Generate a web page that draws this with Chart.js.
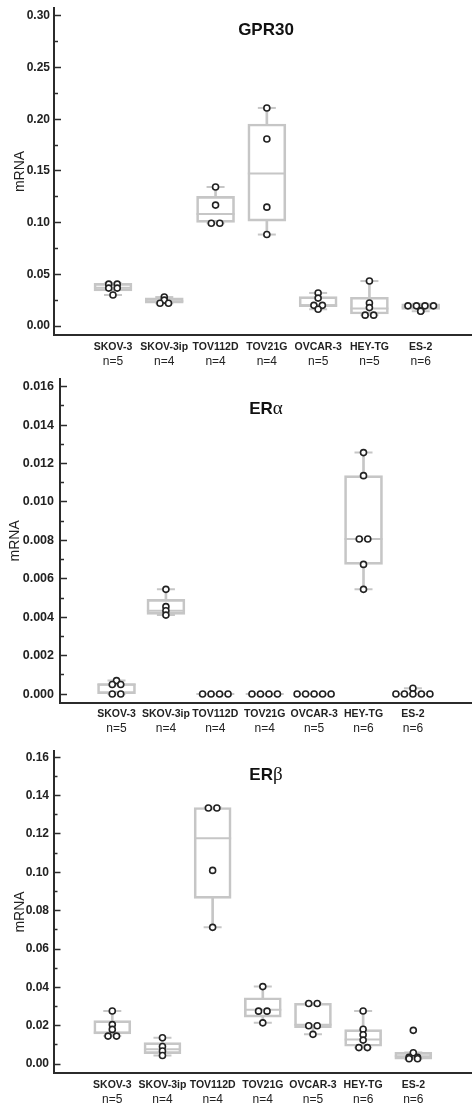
<!DOCTYPE html>
<html>
<head>
<meta charset="utf-8">
<script src="https://cdn.jsdelivr.net/npm/chart.js@4.4.0/dist/chart.umd.min.js"></script>
<style>
  body { margin: 0; background: #fff; width: 472px; height: 1109px; overflow: hidden; position: relative; }
  .panel { position: absolute; left: 0; width: 472px; }
  .title { position: absolute; transform: translate(-50%, -50%); line-height: 1; white-space: nowrap;
           font-family: "Liberation Sans", Arial, sans-serif; font-weight: bold; font-size: 17px; color: #111; }
  .greek { font-family: "Liberation Serif", serif; font-weight: normal; font-size: 19px; }
</style>
</head>
<body>
<div class="panel" style="top:0px"><canvas id="gpr30" width="472" height="370"></canvas></div>
<div class="panel" style="top:370px"><canvas id="era" width="472" height="370"></canvas></div>
<div class="panel" style="top:740px"><canvas id="erb" width="472" height="369"></canvas></div>
<div class="title" style="left:266px;top:29px">GPR30</div>
<div class="title" style="left:266px;top:407px">ER<span class="greek">α</span></div>
<div class="title" style="left:266px;top:773px">ER<span class="greek">β</span></div>
<script>
var cellLines = ['SKOV-3', 'SKOV-3ip', 'TOV112D', 'TOV21G', 'OVCAR-3', 'HEY-TG', 'ES-2'];

// GPR30
var gprN = [5, 4, 4, 4, 5, 5, 6];
var gprValues = [
    [0.0405, 0.0405, 0.0367, 0.0367, 0.030],
    [0.028, 0.025, 0.022, 0.022],
    [0.1345, 0.117, 0.0995, 0.0995],
    [0.211, 0.181, 0.115, 0.0885],
    [0.032, 0.027, 0.020, 0.020, 0.0162],
    [0.0435, 0.0222, 0.0178, 0.0105, 0.0105],
    [0.0195, 0.0195, 0.0195, 0.0195, 0.0146, 0.0143]
];
var gprMin = [0.030, 0.022, 0.0995, 0.0885, 0.0162, 0.0105, 0.0143];
var gprQ1 = [0.034, 0.0222, 0.1003, 0.1015, 0.0187, 0.0116, 0.016];
var gprMedian = [0.037, 0.024, 0.1083, 0.1475, 0.020, 0.017, 0.0185];
var gprQ3 = [0.0413, 0.0272, 0.1255, 0.1955, 0.0284, 0.0278, 0.0215];
var gprMax = [0.0413, 0.028, 0.1345, 0.211, 0.032, 0.0435, 0.0215];
var gprTicks = [0, 0.05, 0.10, 0.15, 0.20, 0.25, 0.30];

// ER alpha
var eraN = [5, 4, 4, 4, 5, 6, 6];
var eraValues = [
    [0.0007, 0.0005, 0.0005, 0, 0],
    [0.00545, 0.00455, 0.00434, 0.00411],
    [0, 0, 0, 0],
    [0, 0, 0, 0],
    [0, 0, 0, 0, 0],
    [0.01257, 0.01137, 0.00807, 0.00807, 0.00675, 0.00545],
    [0.0003, 0, 0, 0, 0, 0]
];
var eraMin = [0, 0.00411, 0, 0, 0, 0.00545, 0];
var eraQ1 = [0, 0.00415, 0, 0, 0, 0.00675, 0];
var eraMedian = [0.0005, 0.00434, 0, 0, 0, 0.00807, 0];
var eraQ3 = [0.00055, 0.00493, 0, 0, 0, 0.01137, 0];
var eraMax = [0.0007, 0.00545, 0, 0, 0, 0.01257, 0.0003];
var eraTicks = [0, 0.002, 0.004, 0.006, 0.008, 0.010, 0.012, 0.014, 0.016];

// ER beta
var erbN = [5, 4, 4, 4, 5, 6, 6];
var erbValues = [
    [0.0277, 0.0206, 0.0181, 0.0146, 0.0146],
    [0.0137, 0.0092, 0.0068, 0.0045],
    [0.1335, 0.1335, 0.101, 0.0713],
    [0.0404, 0.0276, 0.0276, 0.0215],
    [0.0316, 0.0316, 0.020, 0.020, 0.0155],
    [0.0277, 0.0182, 0.0153, 0.0125, 0.0086, 0.0086],
    [0.0176, 0.0059, 0.0035, 0.0035, 0.0028, 0.0028]
];
var erbMin = [0.0146, 0.0045, 0.0713, 0.0215, 0.0155, 0.0086, 0.0026];
var erbQ1 = [0.0157, 0.0055, 0.0864, 0.0245, 0.019, 0.0093, 0.0026];
var erbMedian = [0.0165, 0.0078, 0.1178, 0.0283, 0.0205, 0.0128, 0.0041];
var erbQ3 = [0.0227, 0.0112, 0.1338, 0.0346, 0.0317, 0.018, 0.0061];
var erbMax = [0.0277, 0.0137, 0.1338, 0.0404, 0.0317, 0.0277, 0.0061];
var erbTicks = [0, 0.02, 0.04, 0.06, 0.08, 0.10, 0.12, 0.14, 0.16];

var FONT = '"Liberation Sans", Arial, sans-serif';
var GREY = '#c6c6c6';
var AXIS = '#2b2b2b';

function boxPlot(canvasId, p) {
    var unitPx = (472 - p.axisX) / (p.xMax - p.xMin);
    var spread = 8.5 / unitPx;

    // identical values sit side by side, centred on the cell line
    var points = [];
    p.values.forEach(function (vals, i) {
        var count = {}, used = {};
        vals.forEach(function (v) { count[v] = (count[v] || 0) + 1; });
        vals.forEach(function (v) {
            var k = used[v] || 0;
            used[v] = k + 1;
            points.push({ x: i + 1 + (k - (count[v] - 1) / 2) * spread, y: v });
        });
    });

    var boxes = [], whiskers = [], medians = [], caps = [];
    for (var i = 0; i < cellLines.length; i++) {
        boxes.push({ x: i + 1, y: [p.q1[i], p.q3[i]] });
        whiskers.push({ x: i + 1, y: [p.q3[i], p.max[i]] });
        whiskers.push({ x: i + 1, y: [p.min[i], p.q1[i]] });
        medians.push({ x: i + 1, y: p.median[i] });
        caps.push({ x: i + 1, y: p.min[i] });
        caps.push({ x: i + 1, y: p.max[i] });
    }

    var catTicks = function (s) {
        s.ticks = cellLines.map(function (_, i) { return { value: i + 1 }; });
    };
    var step = p.ticks[1] - p.ticks[0];

    new Chart(document.getElementById(canvasId), {
        type: 'scatter',
        data: {
            datasets: [{
                data: points,
                pointRadius: 3,
                pointBorderWidth: 1.6,
                pointBackgroundColor: '#fff',
                pointBorderColor: '#222',
                order: 0
            }, {
                data: medians,
                pointStyle: 'line',
                pointRadius: p.boxWidth / 2,
                pointBorderWidth: 2,
                pointBorderColor: GREY,
                order: 1
            }, {
                data: caps,
                pointStyle: 'line',
                pointRadius: 9,
                pointBorderWidth: 2,
                pointBorderColor: GREY,
                order: 1
            }, {
                type: 'bar',
                data: boxes,
                grouped: false,
                barThickness: p.boxWidth,
                backgroundColor: 'rgba(0,0,0,0)',
                borderColor: GREY,
                borderWidth: 2,
                borderSkipped: false,
                order: 2
            }, {
                type: 'bar',
                data: whiskers,
                grouped: false,
                barThickness: 2,
                backgroundColor: GREY,
                borderWidth: 0,
                order: 2
            }]
        },
        options: {
            responsive: false,
            animation: false,
            events: [],
            layout: { autoPadding: false, padding: { top: p.axisTop, left: 0, right: 0, bottom: 0 } },
            plugins: { legend: { display: false }, tooltip: { enabled: false } },
            scales: {
                x: {
                    type: 'linear', position: 'bottom', min: p.xMin, max: p.xMax, bounds: 'data', offset: false,
                    weight: 0,
                    afterBuildTicks: catTicks,
                    afterFit: function (s) { s.height = 19; },
                    grid: { display: false, drawTicks: false },
                    border: { display: true, color: AXIS, width: 2 },
                    ticks: {
                        autoSkip: false, maxRotation: 0, padding: 5.5, color: '#222',
                        font: { family: FONT, size: 10.5, weight: 'bold' },
                        callback: function (v) { return cellLines[Math.round(v) - 1]; }
                    }
                },
                x2: {
                    type: 'linear', position: 'bottom', min: p.xMin, max: p.xMax, bounds: 'data', offset: false,
                    weight: 1,
                    afterBuildTicks: catTicks,
                    afterFit: function (s) { s.height = p.height - p.axisBottom - 19; },
                    grid: { display: false, drawTicks: false },
                    border: { display: false },
                    ticks: {
                        autoSkip: false, maxRotation: 0, padding: 0, color: '#222',
                        font: { family: FONT, size: 12 },
                        callback: function (v) { return 'n=' + p.n[Math.round(v) - 1]; }
                    }
                },
                y: {
                    type: 'linear', position: 'left', min: p.yMin, max: p.yMax, bounds: 'data',
                    weight: 1,
                    afterBuildTicks: function (s) {
                        s.ticks = p.ticks.map(function (v) { return { value: v }; });
                    },
                    afterFit: function (s) { s.width = p.axisX; s.paddingTop = 0; s.paddingBottom = 0; },
                    grid: { drawOnChartArea: false, tickLength: -7, tickWidth: 1.5, tickColor: AXIS },
                    border: { display: true, color: AXIS, width: 2 },
                    ticks: {
                        padding: p.labelGap + 7, color: '#222',
                        font: { family: FONT, size: p.tickSize, weight: 'bold' },
                        callback: function (v) { return v.toFixed(p.decimals); }
                    },
                    title: {
                        display: true, text: 'mRNA', color: '#222',
                        font: { family: FONT, size: 14 },
                        padding: { top: p.titleX - 8.4, bottom: 0 }
                    }
                },
                yMinor: {
                    type: 'linear', position: 'left', min: p.yMin, max: p.yMax, bounds: 'data',
                    weight: 0,
                    afterBuildTicks: function (s) {
                        var t = [];
                        for (var j = 0; j < p.ticks.length - 1; j++) t.push({ value: p.ticks[j] + step / 2 });
                        s.ticks = t;
                    },
                    afterFit: function (s) { s.width = 0; s.paddingTop = 0; s.paddingBottom = 0; },
                    grid: { drawOnChartArea: false, tickLength: -4, tickWidth: 1.5, tickColor: AXIS },
                    border: { display: false },
                    ticks: { display: false }
                }
            }
        }
    });
}

boxPlot('gpr30', {
    values: gprValues, min: gprMin, q1: gprQ1, median: gprMedian, q3: gprQ3, max: gprMax,
    n: gprN, ticks: gprTicks, decimals: 2,
    height: 370, axisTop: 8, axisBottom: 335, axisX: 54,
    xMin: -0.15, xMax: 8.0, yMin: -0.0087, yMax: 0.3077,
    boxWidth: 38, tickSize: 12, labelGap: 4, titleX: 20
});

boxPlot('era', {
    values: eraValues, min: eraMin, q1: eraQ1, median: eraMedian, q3: eraQ3, max: eraMax,
    n: eraN, ticks: eraTicks, decimals: 3,
    height: 370, axisTop: 9, axisBottom: 332.7, axisX: 60,
    xMin: -0.144, xMax: 8.196, yMin: -0.00045, yMax: 0.0164,
    boxWidth: 38, tickSize: 12.5, labelGap: 6, titleX: 15
});

boxPlot('erb', {
    values: erbValues, min: erbMin, q1: erbQ1, median: erbMedian, q3: erbQ3, max: erbMax,
    n: erbN, ticks: erbTicks, decimals: 2,
    height: 369, axisTop: 10.7, axisBottom: 333.3, axisX: 53.5,
    xMin: -0.172, xMax: 8.17, yMin: -0.0048, yMax: 0.1634,
    boxWidth: 37, tickSize: 12, labelGap: 4.5, titleX: 20
});
</script>
</body>
</html>
